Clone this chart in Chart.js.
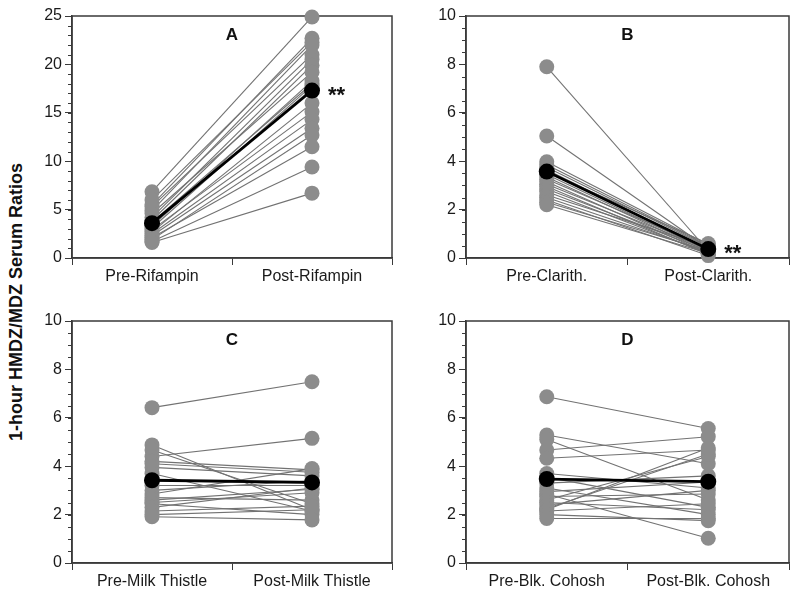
<!DOCTYPE html>
<html>
<head>
<meta charset="utf-8">
<script src="https://cdn.jsdelivr.net/npm/chart.js@4"></script>
<style>
body{margin:0;background:#fff;width:800px;height:594px;position:relative;overflow:hidden;font-family:"Liberation Sans",Arial,sans-serif}
.panel{position:absolute}
#ytitle{position:absolute;left:16px;top:302px;transform:translate(-50%,-50%) rotate(-90deg);font-weight:bold;font-size:18px;white-space:nowrap;color:#111}
</style>
</head>
<body>
<div id="ytitle">1-hour HMDZ/MDZ Serum Ratios</div>
<div class="panel" style="left:0;top:0;width:400px;height:290px"><canvas id="chartA"></canvas></div>
<div class="panel" style="left:400px;top:0;width:400px;height:290px"><canvas id="chartB"></canvas></div>
<div class="panel" style="left:0;top:300px;width:400px;height:294px"><canvas id="chartC"></canvas></div>
<div class="panel" style="left:400px;top:300px;width:400px;height:294px"><canvas id="chartD"></canvas></div>
<script>
// panel A - rifampin
const labelsA = ['Pre-Rifampin', 'Post-Rifampin'];
const preA = [6.85, 5.5, 6.0, 4.9, 5.3, 4.2, 3.9, 4.6, 3.3, 3.7, 3.1, 3.5, 2.7, 2.9, 2.5, 2.3, 1.9, 2.1, 1.7, 1.6];
const postA = [24.9, 22.7, 22.3, 22.0, 21.0, 20.5, 19.9, 19.2, 18.3, 18.0, 17.8, 17.5, 16.0, 15.1, 14.3, 13.4, 12.7, 11.5, 9.4, 6.7];
const meanA = [3.6, 17.3];
const ticksA = [0, 5, 10, 15, 20, 25];

// panel B - clarithromycin
const labelsB = ['Pre-Clarith.', 'Post-Clarith.'];
const preB = [7.9, 5.04, 3.98, 3.85, 3.75, 3.65, 3.55, 3.45, 3.35, 3.25, 3.15, 3.05, 2.95, 2.85, 2.75, 2.6, 2.5, 2.4, 2.3, 2.2];
const postB = [0.3, 0.4, 0.55, 0.5, 0.45, 0.35, 0.6, 0.3, 0.25, 0.4, 0.2, 0.35, 0.15, 0.3, 0.2, 0.45, 0.25, 0.1, 0.3, 0.2];
const meanB = [3.57, 0.37];

// panel C - milk thistle
const labelsC = ['Pre-Milk Thistle', 'Post-Milk Thistle'];
const preC = [6.42, 4.88, 4.67, 4.4, 4.2, 4.1, 3.95, 3.7, 3.4, 3.2, 3.0, 2.85, 2.7, 2.6, 2.5, 2.45, 2.3, 2.15, 2.0, 1.91];
const postC = [7.49, 2.2, 2.45, 5.15, 3.85, 3.75, 3.6, 2.15, 3.3, 3.2, 3.4, 3.9, 2.6, 3.05, 2.9, 2.0, 3.1, 2.35, 2.2, 1.78];
const meanC = [3.42, 3.33];

// panel D - black cohosh
const labelsD = ['Pre-Blk. Cohosh', 'Post-Blk. Cohosh'];
const preD = [6.87, 5.29, 5.1, 4.67, 4.33, 3.7, 3.55, 3.3, 3.1, 2.95, 2.85, 2.75, 2.6, 2.5, 2.4, 2.25, 2.2, 2.15, 2.0, 1.84];
const postD = [5.56, 4.1, 2.6, 5.22, 4.67, 3.1, 2.3, 3.6, 2.0, 3.35, 1.02, 2.85, 4.4, 2.2, 3.0, 4.5, 4.75, 2.45, 1.75, 1.84];
const meanD = [3.47, 3.36];

const ticks10 = [0, 2, 4, 6, 8, 10];

const FONT = '"Liberation Sans", Arial, sans-serif';
const AXIS = '#3a3a3a';

const decor = {
    id: 'decor',
    beforeDatasetsDraw(chart, args, o) {
        const {ctx, chartArea: a, scales} = chart;
        const y = scales.y;
        ctx.save();
        ctx.strokeStyle = AXIS;
        ctx.lineWidth = 1;
        for (let v = y.min; v <= y.max + 1e-9; v += o.minor) {
            const p = Math.round(y.getPixelForValue(v)) + 0.5;
            ctx.beginPath();
            ctx.moveTo(a.left - 4, p);
            ctx.lineTo(a.left, p);
            ctx.stroke();
        }
        ctx.lineWidth = 1.5;
        ctx.strokeRect(a.left, a.top, a.right - a.left, a.bottom - a.top);
        ctx.restore();
    },
    afterDraw(chart, args, o) {
        const {ctx, chartArea: a} = chart;
        ctx.save();
        ctx.fillStyle = '#111';
        ctx.font = 'bold 17px ' + FONT;
        ctx.textAlign = 'center';
        ctx.textBaseline = 'middle';
        ctx.fillText(o.letter, (a.left + a.right) / 2, a.top + 19);
        if (o.stars) {
            const pt = chart.getDatasetMeta(0).data[1];
            ctx.textAlign = 'left';
            ctx.font = 'bold 22px ' + FONT;
            ctx.fillText('**', pt.x + 16, pt.y + 5);
        }
        ctx.restore();
    }
};

function makePanel(id, labels, pre, post, mean, cfg) {
    const datasets = [];
    datasets.push({
        data: mean, borderColor: '#000', backgroundColor: '#000', borderWidth: 2.8,
        pointRadius: 8, pointBorderWidth: 0, order: 0, clip: false
    });
    const pts = pre.map(v => ({x: labels[0], y: v})).concat(post.map(v => ({x: labels[1], y: v})));
    datasets.push({
        data: pts, showLine: false, backgroundColor: '#8c8c8c', borderColor: '#8c8c8c',
        pointRadius: 7.5, pointBorderWidth: 0, order: 1, clip: false
    });
    pre.forEach((v, i) => {
        datasets.push({
            data: [v, post[i]], borderColor: '#727272', borderWidth: 1.1,
            pointRadius: 0, order: 2, clip: false
        });
    });

    new Chart(document.getElementById(id), {
        type: 'line',
        data: {labels: labels, datasets: datasets},
        options: {
            responsive: true,
            maintainAspectRatio: false,
            animation: false,
            layout: {padding: {top: cfg.top, right: cfg.right, left: 0, bottom: 0}},
            plugins: {
                legend: {display: false},
                tooltip: {enabled: false},
                decor: {letter: cfg.letter, stars: cfg.stars, minor: cfg.minor}
            },
            scales: {
                x: {
                    type: 'category',
                    offset: true,
                    grid: {offset: true, drawOnChartArea: false, tickLength: 7, color: AXIS},
                    border: {color: AXIS, width: 1.5},
                    ticks: {color: '#1a1a1a', font: {family: FONT, size: 16}, padding: 2, maxRotation: 0},
                    afterFit: s => { s.height = cfg.xh; }
                },
                y: {
                    min: 0, max: cfg.max,
                    afterBuildTicks: s => { s.ticks = cfg.ticks.map(v => ({value: v})); },
                    grid: {drawOnChartArea: false, tickLength: 7, color: AXIS},
                    border: {color: AXIS, width: 1.5},
                    ticks: {color: '#1a1a1a', font: {family: FONT, size: 16}, padding: 3},
                    afterFit: s => { s.width = cfg.yw; }
                }
            }
        },
        plugins: [decor]
    });
}

makePanel('chartA', labelsA, preA, postA, meanA, {letter: 'A', stars: true, max: 25, ticks: ticksA, minor: 1, top: 16, right: 7, xh: 32, yw: 72});
makePanel('chartB', labelsB, preB, postB, meanB, {letter: 'B', stars: true, max: 10, ticks: ticks10, minor: 0.5, top: 16, right: 11, xh: 32, yw: 66});
makePanel('chartC', labelsC, preC, postC, meanC, {letter: 'C', stars: false, max: 10, ticks: ticks10, minor: 0.5, top: 21, right: 7, xh: 31, yw: 72});
makePanel('chartD', labelsD, preD, postD, meanD, {letter: 'D', stars: false, max: 10, ticks: ticks10, minor: 0.5, top: 21, right: 11, xh: 31, yw: 66});
</script>
</body>
</html>
